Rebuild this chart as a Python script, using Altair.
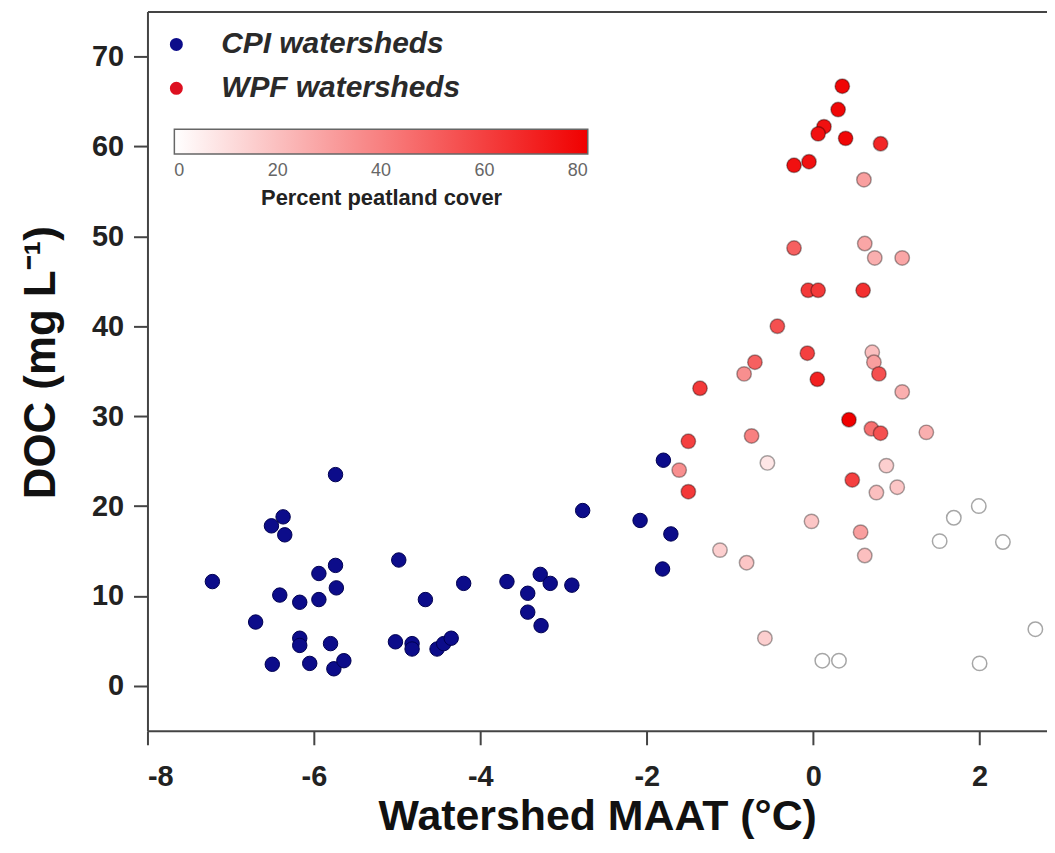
import altair as alt
import pandas as pd

# CPI watersheds (blue)
cpi_maat = [-7.22, -5.74, -6.37, -6.51, -6.35, -5.74, -5.94, -5.73, -6.41, -6.17,
            -5.94, -6.70, -6.17, -6.17, -5.80, -6.50, -6.05, -5.76, -5.64, -4.98,
            -4.20, -4.66, -5.02, -4.82, -4.82, -4.52, -4.44, -4.35, -3.68, -3.28,
            -3.16, -3.43, -3.43, -3.27, -2.90, -2.77, -1.80, -2.08, -1.71, -1.81]
cpi_doc = [11.6, 23.5, 18.8, 17.8, 16.8, 13.4, 12.5, 10.9, 10.1, 9.3,
           9.6, 7.1, 5.3, 4.5, 4.7, 2.4, 2.5, 1.9, 2.8, 14.0,
           11.4, 9.6, 4.9, 4.7, 4.1, 4.1, 4.7, 5.3, 11.6, 12.4,
           11.4, 10.3, 8.2, 6.7, 11.2, 19.5, 25.1, 18.4, 16.9, 13.0]

# WPF watersheds (coloured by percent peatland cover)
wpf_maat = [0.35, 0.30, 0.13, 0.06, 0.39, 0.81, -0.23, -0.05, 0.61, -0.23,
            0.62, 0.74, 1.07, -0.06, 0.06, 0.60, -0.43, -0.07, 0.71, 0.73,
            0.79, -0.70, -0.83, 0.05, -1.36, 1.07, 0.43, 0.70, 0.81, 1.36,
            -0.74, -1.50, -0.55, -1.61, -1.50, 0.47, 0.88, 0.76, 1.01, -0.02,
            1.99, 1.69, 1.52, 2.28, 0.57, 0.62, -1.12, -0.80, -0.58, 0.11,
            0.31, 2.00, 2.67]
wpf_doc = [66.7, 64.1, 62.2, 61.4, 60.9, 60.3, 57.9, 58.3, 56.3, 48.7,
           49.2, 47.6, 47.6, 44.0, 44.0, 44.0, 40.0, 37.0, 37.1, 36.0,
           34.7, 36.0, 34.7, 34.1, 33.1, 32.7, 29.6, 28.6, 28.1, 28.2,
           27.8, 27.2, 24.8, 24.0, 21.6, 22.9, 24.5, 21.5, 22.1, 18.3,
           20.0, 18.7, 16.1, 16.0, 17.1, 14.5, 15.1, 13.7, 5.3, 2.8,
           2.8, 2.5, 6.3]
wpf_peat = [78, 78, 75, 75, 78, 68, 75, 75, 30, 50,
            28, 25, 28, 62, 62, 65, 55, 60, 20, 30,
            55, 50, 35, 70, 62, 25, 80, 45, 55, 25,
            40, 60, 8, 35, 62, 60, 15, 20, 18, 18,
            0, 0, 0, 0, 30, 20, 15, 18, 15, 0,
            0, 0, 0]

groups = ["CPI watersheds", "WPF watersheds"]
x_ticks = [-8, -6, -4, -2, 0, 2]
y_ticks = [0, 10, 20, 30, 40, 50, 60, 70]
peat_ticks = [0, 20, 40, 60, 80]

cpi = pd.DataFrame({"maat": cpi_maat, "doc": cpi_doc, "group": groups[0]})
wpf = pd.DataFrame({"maat": wpf_maat, "doc": wpf_doc, "peat": wpf_peat, "group": groups[1]})

FONT = "Liberation Sans"
xscale = alt.Scale(domain=[-8, 2.81], nice=False, zero=False)
yscale = alt.Scale(domain=[-5, 75], nice=False, zero=False)

cpi_layer = alt.Chart(cpi).mark_circle(size=210, opacity=1, stroke="#000050", strokeWidth=1).encode(
    x=alt.X("maat:Q", scale=xscale,
            axis=alt.Axis(values=x_ticks, title="Watershed MAAT (°C)", titleFontSize=43,
                          titlePadding=4, labelPadding=18, labelExpr="'' + datum.value")),
    y=alt.Y("doc:Q", scale=yscale,
            axis=alt.Axis(values=y_ticks, title="DOC (mg L⁻¹)", titleFontSize=44,
                          titleAngle=-90, titleX=-106, titleY=352, titleAlign="center",
                          titleBaseline="middle", labelPadding=10)),
    fill=alt.Fill("group:N",
                  scale=alt.Scale(domain=groups, range=["#0c0c8a", "#dd1020"]),
                  legend=alt.Legend(title=None, orient="none", legendX=14, legendY=18,
                                    labelFontSize=30, labelFontStyle="italic",
                                    labelFontWeight="bold", labelLimit=0,
                                    labelFont=FONT, labelColor="#2a2a2a",
                                    symbolType="circle", symbolSize=170,
                                    symbolStrokeWidth=0, rowPadding=14, labelOffset=30)),
)

wpf_layer = alt.Chart(wpf).mark_circle(size=210, opacity=1, stroke="#000000",
                                       strokeOpacity=0.35, strokeWidth=1.5).encode(
    x=alt.X("maat:Q", scale=xscale,
            axis=alt.Axis(orient="top", title=None, labels=False, ticks=False, domain=True)),
    y=alt.Y("doc:Q", scale=yscale),
    color=alt.Color("peat:Q",
                    scale=alt.Scale(domain=[0, 80], range=["#ffffff", "#f00000"],
                                    interpolate="rgb"),
                    legend=alt.Legend(title="Percent peatland cover",
                                      orient="none", direction="horizontal",
                                      legendX=27, legendY=118, values=peat_ticks,
                                      gradientLength=415, gradientThickness=25,
                                      gradientStrokeColor="#666", gradientStrokeWidth=1.5,
                                      labelFontSize=18, labelColor="#666",
                                      labelAlign="center", labelOffset=8,
                                      labelFont=FONT, labelLimit=0, titleOrient="bottom",
                                      titleAnchor="middle", titleFontSize=22, titleLimit=0,
                                      titleFont=FONT, titleFontWeight="bold",
                                      titleColor="#222", titlePadding=8)),
)

chart = alt.layer(cpi_layer, wpf_layer).resolve_axis(x="independent").properties(
    width=903, height=722,
    autosize=alt.AutoSizeParams(type="none"),
    padding={"left": 140, "top": 2, "right": 0, "bottom": 110},
).configure_view(stroke=None).configure_axis(
    labelFont=FONT, labelFontWeight="bold", labelFontSize=29, labelColor="#222",
    titleFont=FONT, titleFontWeight="bold", titleColor="#111",
    domainColor="#444", domainWidth=2, tickColor="#444", tickWidth=2, tickSize=14,
    grid=False,
)

chart.save("out.html", embed_options={"renderer": "svg", "actions": False})
